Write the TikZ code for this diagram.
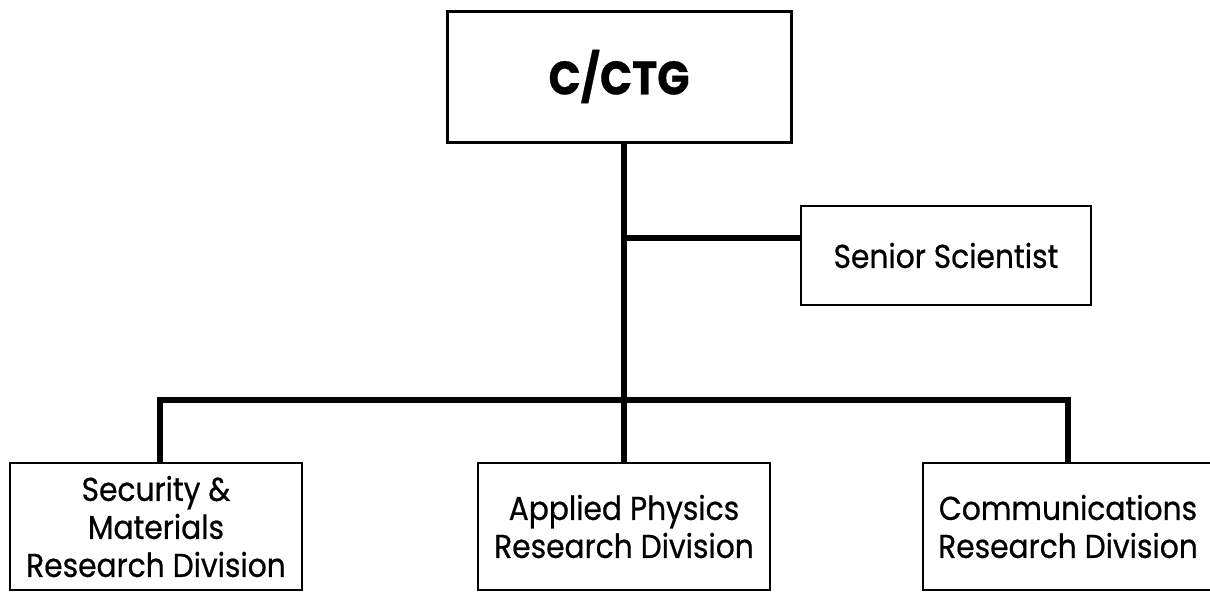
\documentclass[tikz,border=0pt]{standalone}
\usepackage{fontspec}
\setmainfont{Poppins}[FakeStretch=0.9,FakeBold=0.6]
\begin{document}
\begin{tikzpicture}[x=1pt,y=-1pt,
  box/.style={draw=black,line width=2.4pt,rectangle,inner sep=0pt,align=center,font=\fontsize{33}{38}\selectfont},
  conn/.style={line width=5.5pt,line cap=butt}]
\useasboundingbox (0,0) rectangle (1210,592);
\node[box,minimum width=344pt,minimum height=131pt,line width=3pt,font=\fontsize{47}{50}\selectfont\bfseries] (top) at (619,76.5) {C/CTG};
\node[box,minimum width=290pt,minimum height=99pt] (senior) at (946,255.5) {Senior Scientist};
\node[box,minimum width=292pt,minimum height=127pt] (left) at (156,526.5) {Security \&\\Materials\\Research Division};
\node[box,minimum width=292pt,minimum height=127pt] (mid) at (624,526.5) {Applied Physics\\Research Division};
\node[box,minimum width=290pt,minimum height=127pt] (right) at (1068,526.5) {Communications\\Research Division};
\coordinate (bus) at (624,400);
\coordinate (sj) at (624,238);
\draw[conn] (top.south -| mid.north) -- (mid.north);
\draw[conn] (sj) -- (sj -| senior.west);
\draw[conn] (left.north -| 160,0) |- (bus) -| (right.north);
\end{tikzpicture}
\end{document}
